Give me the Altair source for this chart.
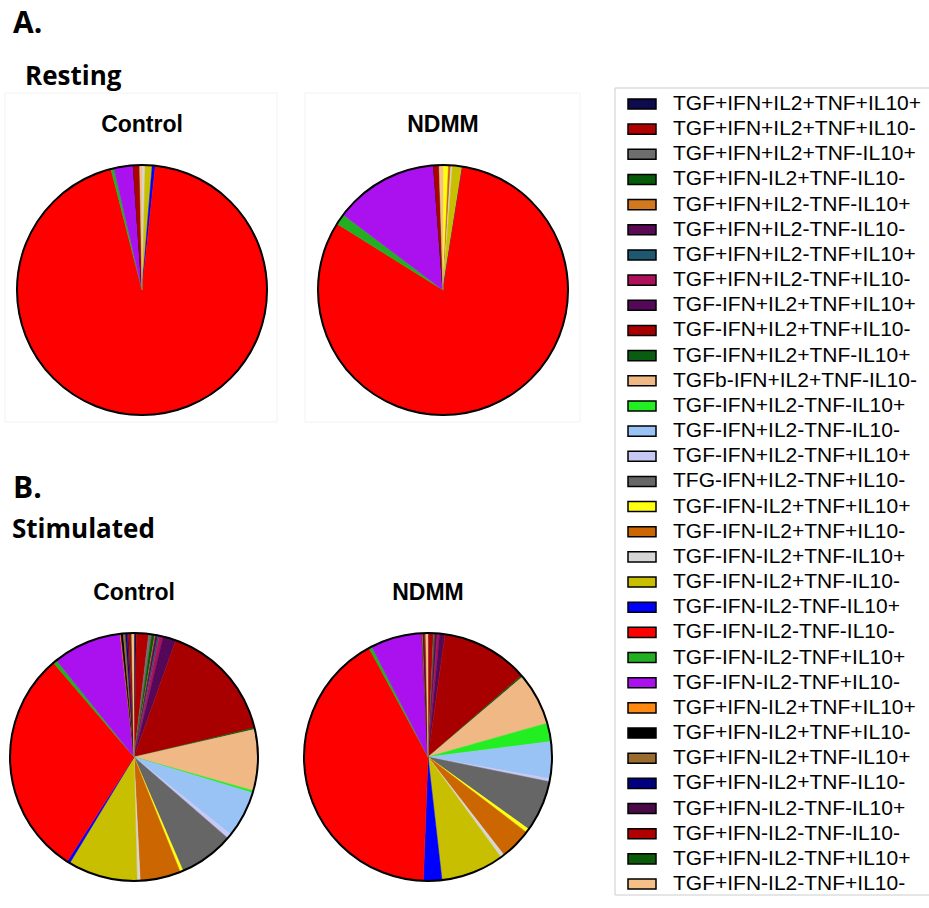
import altair as alt
import pandas as pd

# Cytokine co-expression subsets, in legend / slice order
labels = [
    "TGF+IFN+IL2+TNF+IL10+", "TGF+IFN+IL2+TNF+IL10-", "TGF+IFN+IL2+TNF-IL10+",
    "TGF+IFN-IL2+TNF-IL10-", "TGF+IFN+IL2-TNF-IL10+", "TGF+IFN+IL2-TNF-IL10-",
    "TGF+IFN+IL2-TNF+IL10+", "TGF+IFN+IL2-TNF+IL10-", "TGF-IFN+IL2+TNF+IL10+",
    "TGF-IFN+IL2+TNF+IL10-", "TGF-IFN+IL2+TNF-IL10+", "TGFb-IFN+IL2+TNF-IL10-",
    "TGF-IFN+IL2-TNF-IL10+", "TGF-IFN+IL2-TNF-IL10-", "TGF-IFN+IL2-TNF+IL10+",
    "TFG-IFN+IL2-TNF+IL10-", "TGF-IFN-IL2+TNF+IL10+", "TGF-IFN-IL2+TNF+IL10-",
    "TGF-IFN-IL2+TNF-IL10+", "TGF-IFN-IL2+TNF-IL10-", "TGF-IFN-IL2-TNF-IL10+",
    "TGF-IFN-IL2-TNF-IL10-", "TGF-IFN-IL2-TNF+IL10+", "TGF-IFN-IL2-TNF+IL10-",
    "TGF+IFN-IL2+TNF+IL10+", "TGF+IFN-IL2+TNF+IL10-", "TGF+IFN-IL2+TNF-IL10+",
    "TGF+IFN-IL2+TNF-IL10-", "TGF+IFN-IL2-TNF-IL10+", "TGF+IFN-IL2-TNF-IL10-",
    "TGF+IFN-IL2-TNF+IL10+", "TGF+IFN-IL2-TNF+IL10-",
]

colors = [
    "#0b0b4d", "#b00000", "#6e6e6e", "#075a07", "#d2781e", "#5a0a55",
    "#1d5870", "#b0105a", "#55085a", "#a80000", "#0a5c10", "#f0b884",
    "#22ee22", "#99c3f5", "#c8c8f5", "#666666", "#ffff10", "#cc6600",
    "#d6d6d6", "#c8bf00", "#0000ff", "#ff0000", "#22b022", "#aa11ee",
    "#ff8811", "#000000", "#9a6b2e", "#000080", "#4a0a48", "#b00000",
    "#0a5a0a", "#f5bf88",
]

# Percent of cells in each subset (same order as labels)
resting_control = [
    0, 0, 0, 0, 0, 0, 0, 0, 0, 0, 0, 0,
    0, 0, 0, 0, 0, 0, 0.4, 0.9, 0.4, 94.3, 0.4, 2.5,
    0, 0, 0, 0, 0, 0.8, 0, 0.3,
]
resting_ndmm = [
    0, 0, 0, 0, 0, 0, 0, 0, 0, 0, 0, 0,
    0, 0, 0, 0, 0.7, 0.3, 0.2, 1.3, 0, 81.3, 1.4, 13.5,
    0, 0, 0, 0, 0, 0.7, 0, 0.5,
]
stim_control = [
    0.3, 1.6, 0.4, 0.4, 0.1, 0.3, 0.2, 0.5, 1.7, 15.8, 0.2, 8.0,
    0.3, 6.1, 0.6, 7.2, 0.4, 5.3, 0.4, 9.1, 0.4, 29.8, 0.5, 9.0,
    0.1, 0.3, 0.3, 0.2, 0.2, 0.3, 0.1, 0.3,
]
stim_ndmm = [
    0.1, 0.6, 0.1, 0.1, 0, 0.3, 0, 0.3, 0.7, 11.4, 0.2, 6.8,
    2.4, 4.8, 0.4, 6.7, 0.5, 4.1, 0.5, 8.2, 2.4, 41.5, 0.4, 6.7,
    0, 0, 0.2, 0, 0.1, 0.2, 0, 0.3,
]

idx = list(range(1, len(labels) + 1))
color_scale = alt.Scale(domain=idx, range=colors)
one_row = alt.Data(values=[{}])


def pie(values, cx, cy, r):
    frame = pd.DataFrame({"idx": idx, "value": values})
    slices = alt.Chart(frame).mark_arc(radius=r, strokeWidth=0.5).encode(
        theta=alt.Theta("value:Q", stack=True),
        order=alt.Order("idx:Q"),
        color=alt.Color("idx:O", scale=color_scale, legend=None),
        stroke=alt.Stroke("idx:O", scale=color_scale, legend=None),
        x=alt.value(cx),
        y=alt.value(cy),
    )
    ring = alt.Chart(one_row).mark_arc(
        radius=r, theta=0, theta2=6.2832, filled=False,
        stroke="black", strokeWidth=2,
    ).encode(x=alt.value(cx), y=alt.value(cy))
    return [slices, ring]


def text(txt, x, y, size, font, align="left"):
    return alt.Chart(one_row).mark_text(
        text=txt, align=align, baseline="alphabetic", fontSize=size,
        font=font, fontWeight="bold", color="black",
    ).encode(x=alt.value(x), y=alt.value(y))


def frame_box(x0, y0, x1, y1, color):
    return alt.Chart(one_row).mark_rect(
        fill="white", fillOpacity=0, stroke=color, strokeWidth=1,
    ).encode(x=alt.value(x0), x2=alt.value(x1), y=alt.value(y0), y2=alt.value(y1))


# legend built from the same colour scale
legend_df = pd.DataFrame({"idx": idx, "label": labels})
row_y = alt.Y("idx:O", scale=alt.Scale(domain=idx, range=[104, 884], padding=0), axis=None)
swatches = alt.Chart(legend_df).mark_point(
    shape="M-1,-0.36H1V0.36H-1Z", size=784, filled=True, opacity=1,
    stroke="black", strokeWidth=1.5,
).encode(
    x=alt.value(642),
    y=row_y,
    color=alt.Color("idx:O", scale=color_scale, legend=None),
)
legend_text = alt.Chart(legend_df).mark_text(
    align="left", baseline="middle", fontSize=21, font="Liberation Sans", color="black",
).encode(x=alt.value(673), y=row_y, text="label:N")

layers = [
    frame_box(5, 93, 277, 422, "#f2f2f2"),
    frame_box(305, 93, 580, 422, "#f2f2f2"),
    frame_box(615, 88, 940, 895, "#cccccc"),
    *pie(resting_control, 142, 290, 125),
    *pie(resting_ndmm, 443, 290, 125),
    *pie(stim_control, 134, 757, 124),
    *pie(stim_ndmm, 428, 757, 124),
    text("A.", 13, 33, 30, "Open Sans"),
    text("Resting", 25, 85, 26, "Open Sans"),
    text("B.", 13, 498, 30, "Open Sans"),
    text("Stimulated", 12, 538, 26, "Open Sans"),
    text("Control", 142, 132, 23, "Liberation Sans", "center"),
    text("NDMM", 443, 132, 23, "Liberation Sans", "center"),
    text("Control", 134, 600, 23, "Liberation Sans", "center"),
    text("NDMM", 428, 600, 23, "Liberation Sans", "center"),
    swatches,
    legend_text,
]

chart = alt.layer(*layers).resolve_scale(theta="independent").properties(
    width=929,
    height=908,
    autosize=alt.AutoSizeParams(type="none"),
    padding=0,
    background="white",
).configure_view(strokeWidth=0)

chart.save("out.html", embed_options={"renderer": "svg", "actions": False})
